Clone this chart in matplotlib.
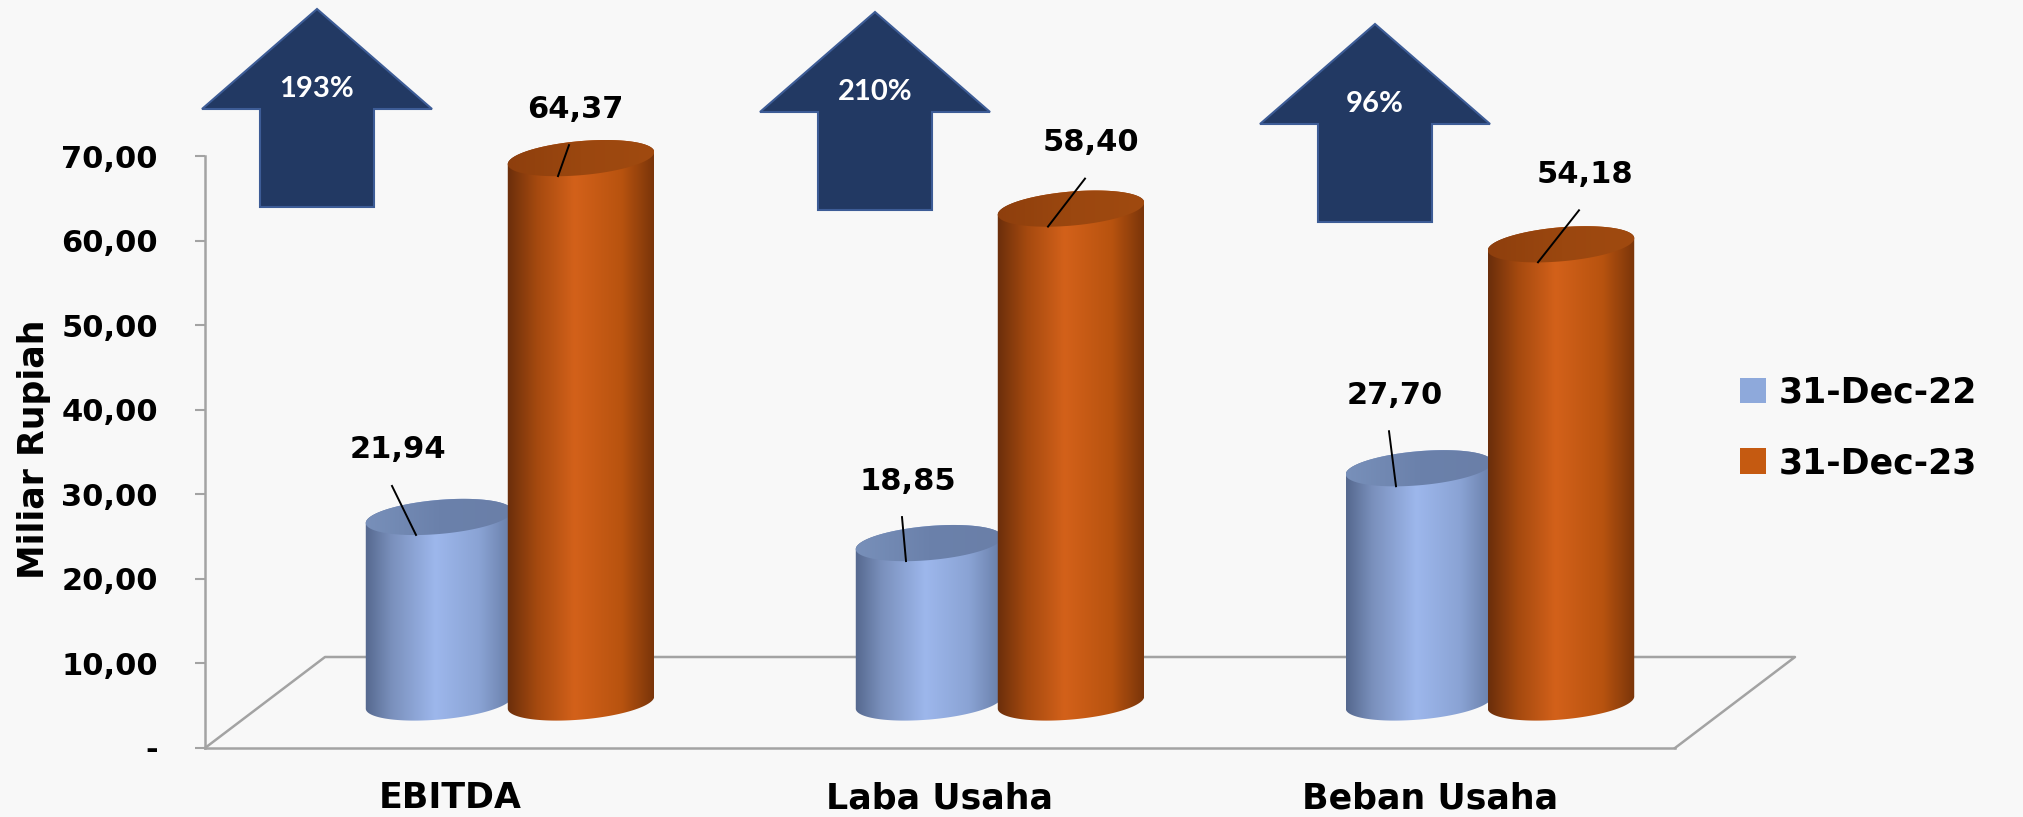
import numpy as np
import matplotlib
matplotlib.use("Agg")
import matplotlib.pyplot as plt
from matplotlib.patches import Polygon, Patch
from matplotlib.colors import LinearSegmentedColormap

# data
categories = ["EBITDA", "Laba Usaha", "Beban Usaha"]
series_names = ["31-Dec-22", "31-Dec-23"]
values_2022 = [21.94, 18.85, 27.70]
values_2023 = [64.37, 58.40, 54.18]
y_ticks = [0, 10, 20, 30, 40, 50, 60, 70]
y_tick_labels = ["-", "10,00", "20,00", "30,00", "40,00", "50,00", "60,00", "70,00"]

# layout, in pixels of the 2023x817 picture
W, H = 2023, 817
X0, Y0 = 205, 69            # front-left floor corner (from bottom-left)
PX_X = 1470 / 3.0           # pixels per category
PX_Y = 592 / 70.0           # pixels per value unit
DEPTH = (120, 91)           # floor depth (dx, dy)
HALF_GAP = 71               # distance of each cylinder from pair centre
RX, RY, TILT = 73.5, 17, np.radians(5)
label_offsets = [[(-41, 67), (-21, 62), (-24, 73)],
                 [(-6, 49), (20, 66), (24, 70)]]
arrow_pos = [(317, 9), (875, 12), (1375, 24)]   # centre x, tip y (from top)

BG = "#F8F8F8"
GRID = "#A3A3A3"
body_cmaps = [
    LinearSegmentedColormap.from_list("b", [(0, "#55688E"), (0.18, "#7A90BC"), (0.48, "#9DB7EC"),
                                            (0.78, "#8AA3D4"), (1, "#687EA8")]),
    LinearSegmentedColormap.from_list("o", [(0, "#6A2E0B"), (0.2, "#A4490F"), (0.46, "#D3611A"),
                                            (0.78, "#B8530F"), (1, "#7A350A")]),
]
top_cmaps = [
    LinearSegmentedColormap.from_list("bt", ["#7890BA", "#6B81AB", "#6A7FA8"]),
    LinearSegmentedColormap.from_list("ot", ["#8E3F0D", "#9B470F", "#A04A10"]),
]
legend_colors = ["#8EA9DB", "#C55A11"]


def ux(p):
    return p / PX_X


def uy(p):
    return p / PX_Y


fig = plt.figure(figsize=(W / 100, H / 100), dpi=100, facecolor=BG)
ax = fig.add_axes([0, 0, 1, 1])
ax.set_facecolor(BG)

# floor
bx, by = ux(DEPTH[0]), uy(DEPTH[1])
ax.plot([-0.5, -0.5 + bx, 2.5 + bx, 2.5], [0, by, by, 0], color=GRID, lw=1.8, zorder=1)

# ellipse outline in pixel offsets
t = np.linspace(0, 2 * np.pi, 241)
ex = RX * np.cos(t) * np.cos(TILT) - RY * np.sin(t) * np.sin(TILT)
ey = RX * np.cos(t) * np.sin(TILT) + RY * np.sin(t) * np.cos(TILT)
lower = (t >= np.pi)
upper = (t <= np.pi)

base = uy(DEPTH[1] / 2)
grad = np.linspace(0, 1, 256).reshape(1, -1)

for s, vals in enumerate([values_2022, values_2023]):
    for i, v in enumerate(vals):
        cx = i + ux(DEPTH[0] / 2) + ux(HALF_GAP) * (1 if s else -1)
        top = base + v
        z = 3 + s + i * 0.01
        xs = np.concatenate([cx + ux(ex[lower]), cx + ux(ex[upper])])
        ys = np.concatenate([base + uy(ey[lower]), top + uy(ey[upper])])
        body = Polygon(np.column_stack([xs, ys]), closed=True, fc="none", ec="none", zorder=z)
        ax.add_patch(body)
        im = ax.imshow(grad, cmap=body_cmaps[s], aspect="auto", interpolation="bilinear",
                       extent=[cx - ux(RX), cx + ux(RX), base - uy(30), top + uy(30)], zorder=z)
        im.set_clip_path(body)

        cap = Polygon(np.column_stack([cx + ux(ex), top + uy(ey)]), closed=True,
                      fc="none", ec="none", zorder=z + 0.1)
        ax.add_patch(cap)
        im2 = ax.imshow(grad, cmap=top_cmaps[s], aspect="auto", interpolation="bilinear",
                        extent=[cx - ux(RX), cx + ux(RX), top - uy(30), top + uy(30)], zorder=z + 0.1)
        im2.set_clip_path(cap)

        dx, up = label_offsets[s][i]
        lx, ly = cx + ux(dx), top + uy(up)
        ax.plot([lx + ux(-6), cx + ux(-23)], [ly - uy(36), top - uy(18)],
                color="black", lw=1.4, zorder=10)
        ax.text(lx, ly, f"{v:.2f}".replace(".", ","), ha="center", va="center",
                fontsize=22, fontweight="bold", color="black", zorder=11)

# growth arrows
for i, (px, tip) in enumerate(arrow_pos):
    growth = (values_2023[i] / values_2022[i] - 1) * 100
    xc = -0.5 + ux(px - X0)
    yt = uy(H - tip - Y0)
    hw, sw = ux(115), ux(57)
    hh, total = uy(100), uy(198)
    pts = [(xc, yt), (xc + hw, yt - hh), (xc + sw, yt - hh), (xc + sw, yt - total),
           (xc - sw, yt - total), (xc - sw, yt - hh), (xc - hw, yt - hh)]
    ax.add_patch(Polygon(pts, closed=True, fc="#223963", ec="#3D5C96", lw=1.5, zorder=12))
    ax.text(xc, yt - uy(80), f"{growth:.0f}%", ha="center", va="center", color="white",
            fontsize=21, fontweight="bold", family=["Lato", "DejaVu Sans"], zorder=13)

# axes
ax.set_xlim(-0.5 - ux(X0), -0.5 + ux(W - X0))
ax.set_ylim(-uy(Y0), uy(H - Y0))
for side in ["top", "right"]:
    ax.spines[side].set_visible(False)
ax.spines["left"].set_position(("data", -0.5))
ax.spines["left"].set_bounds(0, 70)
ax.spines["bottom"].set_position(("data", 0))
ax.spines["bottom"].set_bounds(-0.5, 2.5)
for side in ["left", "bottom"]:
    ax.spines[side].set_color(GRID)
    ax.spines[side].set_linewidth(1.8)
    ax.spines[side].set_zorder(1)

ax.set_yticks(y_ticks, y_tick_labels)
ax.tick_params(axis="y", length=7, width=1.5, color=GRID, pad=27, labelsize=22)
ax.set_xticks(range(len(categories)), categories)
ax.tick_params(axis="x", length=0, pad=24, labelsize=25)
for lbl in ax.get_xticklabels() + ax.get_yticklabels():
    lbl.set_fontweight("bold")

ax.text(34 / W, 1 - 449 / H, "Miliar Rupiah", transform=ax.transAxes, rotation=90,
        ha="center", va="center", fontsize=25, fontweight="bold")

handles = [Patch(facecolor=c) for c in legend_colors]
ax.legend(handles, series_names, loc="center left", bbox_to_anchor=(1740 / W, 1 - 428 / H),
          frameon=False, prop={"size": 25, "weight": "bold"}, handlelength=0.75,
          handleheight=0.75, handletextpad=0.35, labelspacing=1.05, borderpad=0,
          borderaxespad=0)

fig.savefig("out.png", dpi=100, facecolor=BG)
